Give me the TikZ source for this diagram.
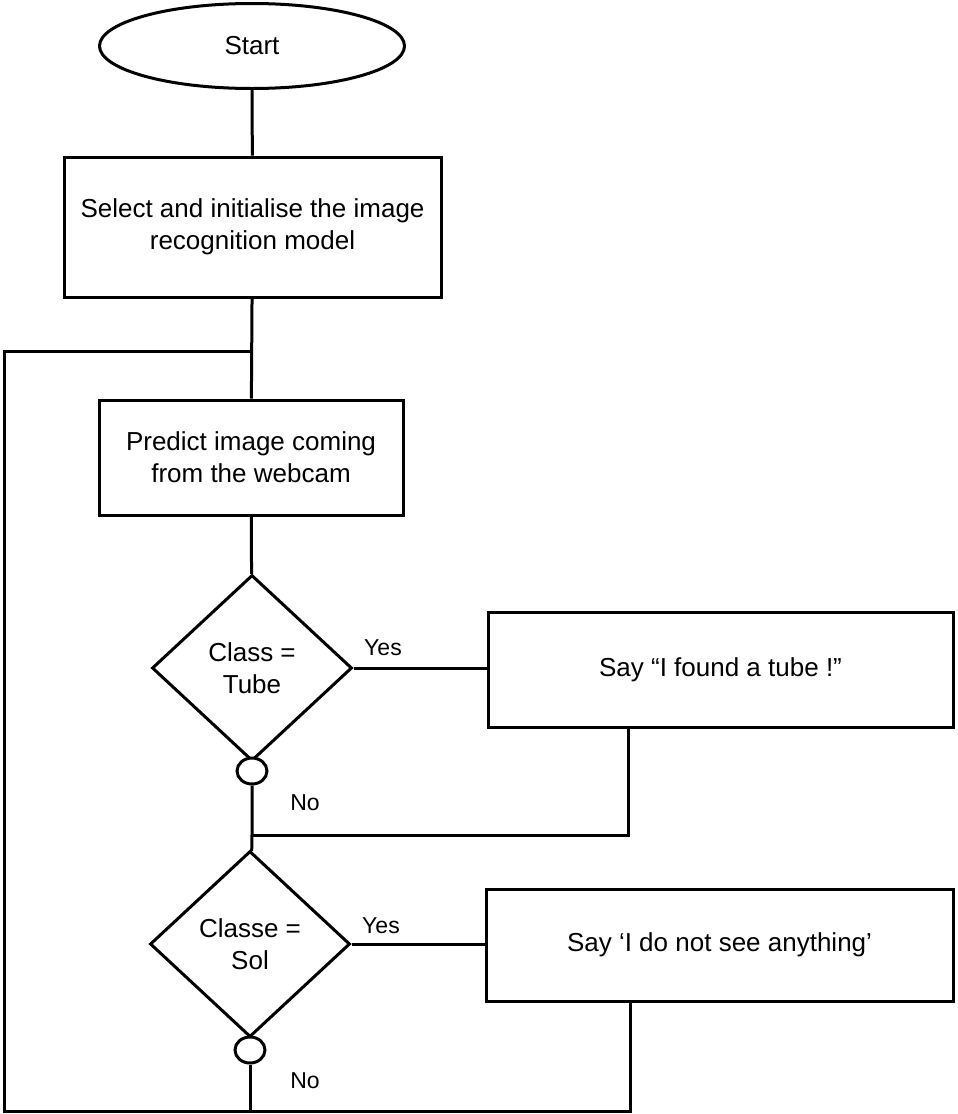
\documentclass[tikz,border=0pt]{standalone}
\usepackage{fontspec}
\setmainfont{Liberation Sans}
\usepackage{tikz}
\usetikzlibrary{shapes.geometric}

\begin{document}
\begin{tikzpicture}[x=1pt,y=-1pt,
  box/.style={draw,line width=3pt,minimum width=#1,align=center,
              font=\fontsize{26}{32}\selectfont,inner sep=0pt},
  term/.style={draw,ellipse,line width=3pt,minimum width=305pt,minimum height=85pt,
               font=\fontsize{26}{32}\selectfont,inner sep=0pt},
  dec/.style={draw,diamond,line width=3pt,minimum width=200pt,minimum height=186pt,
              align=center,font=\fontsize{26}{32}\selectfont,inner sep=0pt},
  con/.style={draw,ellipse,line width=3pt,fill=white,minimum width=30pt,minimum height=26pt,inner sep=0pt},
  lbl/.style={font=\fontsize{23}{28}\selectfont,inner sep=0pt},
  ln/.style={line width=3pt}
]
\useasboundingbox (0,0) rectangle (958,1114);
\node[term] (start) at (252,46) {Start};
\node[box=377pt,minimum height=140pt] (init) at (252.5,227) {Select and initialise the image\\recognition model};
\node[box=304pt,minimum height=115pt] (predict) at (251,457.5) {Predict image coming\\from the webcam};
\node[dec] (tube) at (252,668) {Class =\\Tube};
\node[con] (c1) at (252,771) {};
\node[box=465pt,minimum height=115pt] (say1) at (720.5,669.5) {Say “I found a tube !”};
\node[dec] (sol) at (250,944) {Classe =\\Sol};
\node[con] (c2) at (250,1050) {};
\node[box=467pt,minimum height=112pt] (say2) at (719.5,945) {Say ‘I do not see anything’};
\node[lbl] (yes1) at (383,648) {Yes};
\node[lbl] (no1) at (305,803) {No};
\node[lbl] (yes2) at (381,926) {Yes};
\node[lbl] (no2) at (305,1081) {No};
\coordinate (j1) at (252,835);
\coordinate (j1r) at (628,835);
\coordinate (j2) at (250,1111);
\coordinate (j2r) at (630,1111);
\coordinate (bl) at (4,1111);
\coordinate (tl) at (4,351);
\coordinate (jl) at (252,351);
\draw[ln](start)--(init);\draw[ln](init)--(predict);\draw[ln](predict)--(tube);
\draw[ln](c1)--(j1)--(sol);\draw[ln](c2)--(j2);
\draw[ln](tube.east)--(tube.east-|say1.west);
\draw[ln](sol.east)--(sol.east-|say2.west);
\draw[ln](j1)--(j1r)--(j1r|-say1.south);
\draw[ln](j2r|-say2.south)--(j2r)--(bl)--(tl)--(jl);
\end{tikzpicture}
\end{document}
